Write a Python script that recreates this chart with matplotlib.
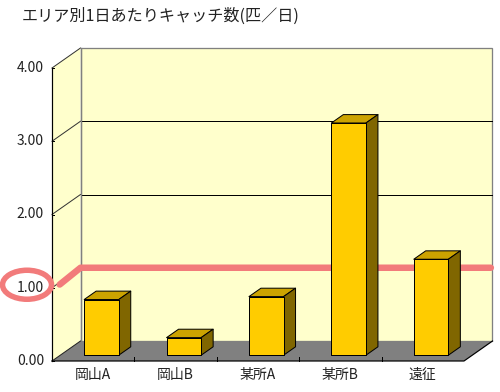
import matplotlib
matplotlib.use("Agg")
import matplotlib.pyplot as plt
from matplotlib.patches import Polygon, Ellipse
from matplotlib.transforms import IdentityTransform

# DATA

categories = ["岡山A", "岡山B", "某所A", "某所B", "遠征"]
catches_per_day = [0.76, 0.24, 0.80, 3.17, 1.31]
y_ticks = [0, 1, 2, 3, 4]
y_tick_labels = ["0.00", "1.00", "2.00", "3.00", "4.00"]
marked_value = 1.0
title = "エリア別1日あたりキャッチ数(匹／日)"

# STYLE

plt.rcParams["font.family"] = ["Noto Sans CJK JP", "DejaVu Sans"]

WALL = "#FFFFCC"
FLOOR = "#808080"
BAR_FRONT = "#FFCC00"
BAR_TOP = "#CCA300"
BAR_SIDE = "#806600"
PINK = "#F27B7B"
DX, DY = 28.5, 20.0        # depth offset of the back wall, in pixels
BAR_D0, BAR_D1 = 0.29, 0.71
BAR_W = 0.42
PX = 0.72                  # one pixel in points at dpi 100

fig = plt.figure(figsize=(5.0, 3.92), dpi=100)
fig.patch.set_facecolor("white")
ax = fig.add_axes([52 / 500, 31 / 392, 412 / 500, 293 / 392])
ax.set_xlim(-0.5, len(categories) - 0.5)
ax.set_ylim(0, 4)
ax.axis("off")

ident = IdentityTransform()
x0, x1 = -0.5, len(categories) - 0.5
ymax = y_ticks[-1]


def proj(x, y, d):
    px, py = ax.transData.transform((x, y))
    return px + DX * d, py + DY * d


def poly(pts, **kw):
    ax.add_patch(Polygon(pts, closed=True, transform=ident, clip_on=False, **kw))


def line(pts, **kw):
    xs = [p[0] for p in pts]
    ys = [p[1] for p in pts]
    ax.plot(xs, ys, transform=ident, clip_on=False, **kw)


# WALLS AND FLOOR

poly([proj(x0, 0, 0), proj(x0, ymax, 0), proj(x0, ymax, 1), proj(x0, 0, 1)],
     facecolor=WALL, edgecolor="none", zorder=1)
poly([proj(x0, 0, 1), proj(x1, 0, 1), proj(x1, ymax, 1), proj(x0, ymax, 1)],
     facecolor=WALL, edgecolor="#808080", linewidth=PX * 1.3, zorder=1)
poly([proj(x0, 0, 0), proj(x1, 0, 0), proj(x1, 0, 1), proj(x0, 0, 1)],
     facecolor=FLOOR, edgecolor="none", zorder=2)

# gridlines
for v in y_ticks[1:]:
    if v < ymax:
        line([proj(x0, v, 1), proj(x1, v, 1)], color="black", linewidth=PX, zorder=3)
    line([proj(x0, v, 0), proj(x0, v, 1)], color="#333333", linewidth=PX, zorder=3)
line([proj(x0, 0, 1), proj(x0, ymax, 1)], color="#808080", linewidth=PX * 1.3, zorder=3)

# hand-drawn marker line at 1.00
line([proj(x0, marked_value - 0.03, 0.27), proj(x0, marked_value, 1),
      proj(x1 - 0.02, marked_value, 1)],
     color=PINK, linewidth=PX * 6.5, solid_capstyle="round",
     solid_joinstyle="round", zorder=4)

# floor edges and axis
line([proj(x0, 0, 0), proj(x1, 0, 0), proj(x1, 0, 1)], color="black", linewidth=PX * 1.2, zorder=5)
line([proj(x0, 0, 0), proj(x0, 0, 1)], color="#222222", linewidth=PX, zorder=5)
line([proj(x0, 0, 0), proj(x0, ymax, 0)], color="black", linewidth=PX * 1.2, zorder=5)
for v in y_ticks:
    px, py = proj(x0, v, 0)
    line([(px, py), (px + 2, py)], color="black", linewidth=PX, zorder=5)
for i in range(1, len(categories)):
    px, py = proj(i - 0.5, 0, 0)
    line([(px, py), (px, py + 4)], color="black", linewidth=PX, zorder=5)

# BARS

for i, v in enumerate(catches_per_day):
    l, r = i - BAR_W / 2, i + BAR_W / 2
    ek = dict(edgecolor="black", linewidth=PX, joinstyle="round", zorder=6)
    poly([proj(l, v, BAR_D0), proj(r, v, BAR_D0), proj(r, v, BAR_D1), proj(l, v, BAR_D1)],
         facecolor=BAR_TOP, **ek)
    poly([proj(r, 0, BAR_D0), proj(r, 0, BAR_D1), proj(r, v, BAR_D1), proj(r, v, BAR_D0)],
         facecolor=BAR_SIDE, **ek)
    poly([proj(l, 0, BAR_D0), proj(r, 0, BAR_D0), proj(r, v, BAR_D0), proj(l, v, BAR_D0)],
         facecolor=BAR_FRONT, **ek)

# LABELS

for v, lab in zip(y_ticks, y_tick_labels):
    px, py = proj(x0, v, 0)
    ax.text(px - 8, py, lab, transform=ident, ha="right", va="center",
            fontsize=10, color="#222222")

for i, lab in enumerate(categories):
    px, py = proj(i, 0, 0)
    ax.text(px, py - 14, lab, transform=ident, ha="center", va="center",
            fontsize=10, color="#222222")

# circle round the 1.00 label
cx, cy = proj(x0, marked_value, 0)
ax.add_patch(Ellipse((cx - 25, cy + 3), 49, 29, transform=ident, fill=False,
                     edgecolor=PINK, linewidth=PX * 5.5, clip_on=False, zorder=7))

fig.text(22 / 500, 1 - 16 / 392, title, ha="left", va="center",
         fontsize=11.6, color="#222222")

fig.savefig("out.png", dpi=100)
plt.close(fig)
